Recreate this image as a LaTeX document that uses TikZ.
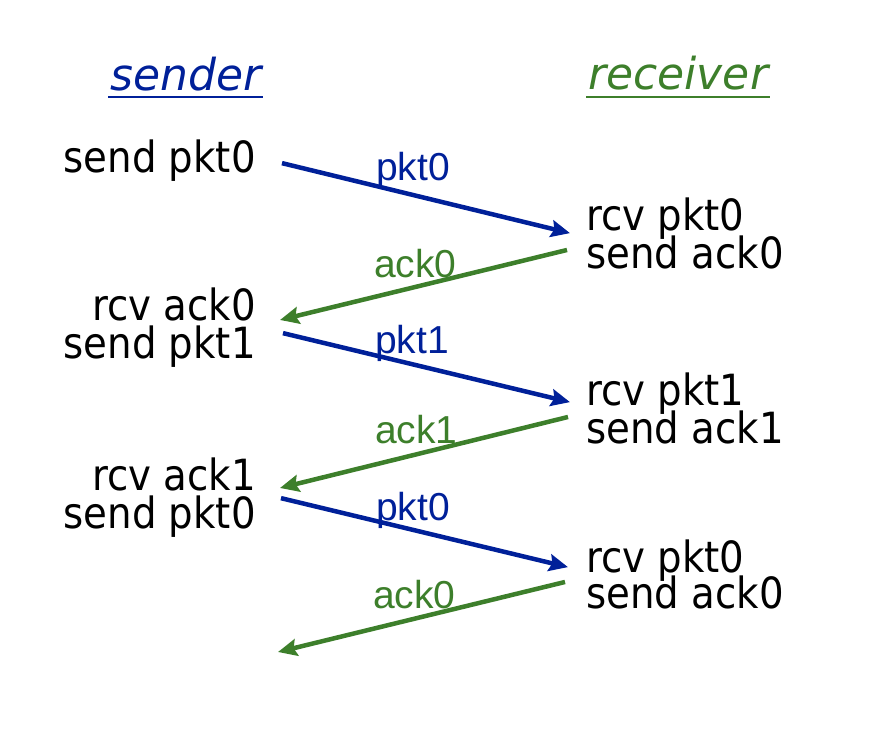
\documentclass[tikz,border=0pt]{standalone}
\usepackage{fontspec}
\setmainfont{DejaVu Sans}[FakeStretch=0.9]
\newfontfamily\lblfont{Liberation Sans}
\newfontfamily\hdrfont{DejaVu Sans}
\usetikzlibrary{arrows.meta,calc}
\definecolor{pktblue}{RGB}{0,32,153}
\definecolor{ackgreen}{RGB}{61,127,43}

\begin{document}
\begin{tikzpicture}[x=1pt,y=-1pt,line width=4.5pt,>={Stealth[length=19pt,width=17pt,inset=3pt]},
  msg/.style={inner sep=0pt,font=\fontsize{43}{43}\selectfont},
  lbl/.style={inner sep=0pt,anchor=base west,font=\lblfont\fontsize{39}{39}\selectfont},
  hdr/.style={inner sep=0pt,anchor=base west,font=\hdrfont\itshape\fontsize{44}{44}\selectfont},
  pkt/.style={->,pktblue},
  ack/.style={->,ackgreen}]
\useasboundingbox (0,0) rectangle (874,744);
% ---------- Kopf ----------
\node[hdr,text=pktblue] (hsnd) at (108,90) {sender};
\node[hdr,text=ackgreen] (hrcv) at (586,89) {receiver};
\draw[pktblue,line width=2.5pt] ($(hsnd.base west)+(0,7)$) -- ($(hsnd.base east)+(0,7)$);
\draw[ackgreen,line width=2.5pt] ($(hrcv.base west)+(0,8)$) -- ($(hrcv.base east)+(0,8)$);
% ---------- Sender (rechtsbuendig) ----------
\node[msg,anchor=base east] (snd1) at (258,172) {send pkt0};
\node[msg,anchor=base east] (rak0) at (258,320) {rcv ack0};
\node[msg,anchor=base east] (snd2) at ($(rak0.base east)+(0,38)$) {send pkt1};
\node[msg,anchor=base east] (rak1) at (258,490) {rcv ack1};
\node[msg,anchor=base east] (snd3) at ($(rak1.base east)+(0,38)$) {send pkt0};
% ---------- Empfaenger (linksbuendig) ----------
\node[msg,anchor=base west] (rpk0) at (584,230) {rcv pkt0};
\node[msg,anchor=base west] (sak0) at ($(rpk0.base west)+(0,38)$) {send ack0};
\node[msg,anchor=base west] (rpk1) at (584,405) {rcv pkt1};
\node[msg,anchor=base west] (sak1) at ($(rpk1.base west)+(0,38)$) {send ack1};
\node[msg,anchor=base west] (rpk2) at (584,572) {rcv pkt0};
\node[msg,anchor=base west] (sak2) at ($(rpk2.base west)+(0,36)$) {send ack0};
\coordinate (lost) at (278,652);
% ---------- Nachrichten ----------
\draw[pkt] ($(snd1.east)+(24,3)$) -- ($(rpk0.west)+(-14,15)$);
\draw[ack] ($(sak0.west)+(-17,-2)$) -- ($(rak0.east)+(22,16)$);
\draw[pkt] ($(snd2.east)+(25,-13)$) -- ($(rpk1.west)+(-14,9)$);
\draw[ack] ($(sak1.west)+(-16,-10)$) -- ($(rak1.east)+(22,14)$);
\draw[pkt] ($(snd3.east)+(23,-18)$) -- ($(rpk2.west)+(-16,7)$);
\draw[ack] ($(sak2.west)+(-19,-10)$) -- (lost);
% Beschriftungen
\node[lbl,text=pktblue] (lp0) at (374,180) {pkt0};
\node[lbl,text=ackgreen] (la0) at (372,277) {ack0};
\node[lbl,text=pktblue] (lp1) at (373,353) {pkt1};
\node[lbl,text=ackgreen] (la1) at (373,443) {ack1};
\node[lbl,text=pktblue] (lp2) at (374,520) {pkt0};
\node[lbl,text=ackgreen] (la2) at (371,608) {ack0};
\end{tikzpicture}
\end{document}
